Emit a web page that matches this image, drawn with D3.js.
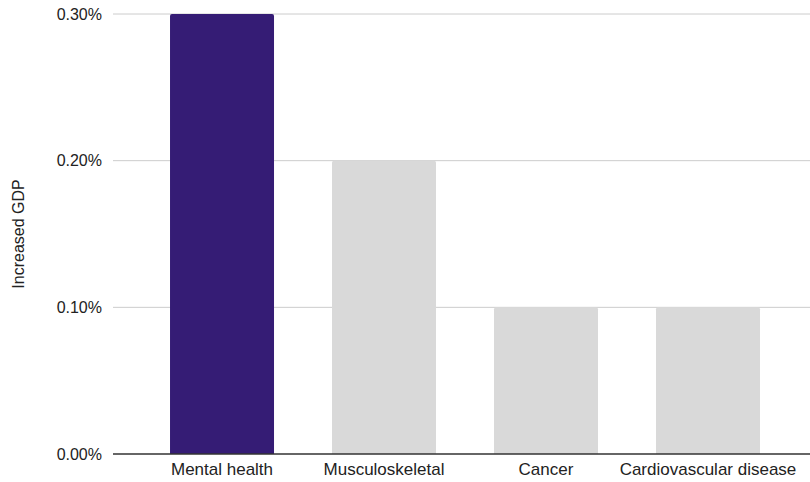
<!DOCTYPE html>
<html>
<head>
<meta charset="utf-8">
<script src="https://cdn.jsdelivr.net/npm/d3@7"></script>
<style>
  html, body { margin: 0; padding: 0; background: #fff; }
  svg { display: block; font-family: Arial, "Liberation Sans", sans-serif; }
</style>
</head>
<body>
<svg id="chart" width="810" height="482"></svg>
<script>
const categories = ["Mental health", "Musculoskeletal", "Cancer", "Cardiovascular disease"];
const values = [0.003, 0.002, 0.001, 0.001];
const barColors = ["#351c75", "#d9d9d9", "#d9d9d9", "#d9d9d9"];
const yTicks = [0, 0.001, 0.002, 0.003];
const yTitle = "Increased GDP";

(function () {
const mLeft = 113, mRight = 810, mTop = 14, mBottom = 454;

const svg = d3.select("#chart");

const x = d3.scaleBand()
  .domain(categories)
  .range([mLeft, 817])
  .paddingInner(0.358)
  .paddingOuter(0.352);

const y = d3.scaleLinear().domain([0, 0.003]).range([mBottom, mTop]);
const fmt = d3.format(".2%");

// gridlines
svg.append("g").selectAll("line")
  .data(yTicks.filter(d => d > 0))
  .join("line")
  .attr("x1", mLeft).attr("x2", mRight)
  .attr("y1", d => y(d)).attr("y2", d => y(d))
  .attr("stroke", "#cccccc").attr("stroke-width", 1);

// bars with rounded top corners
const r = 2;
svg.append("g").selectAll("path")
  .data(categories.map((c, i) => ({ c, v: values[i], col: barColors[i] })))
  .join("path")
  .attr("fill", d => d.col)
  .attr("d", d => {
    const x0 = x(d.c), x1 = x0 + x.bandwidth();
    const y0 = y(d.v), y1 = y(0);
    return `M${x0},${y1}V${y0 + r}Q${x0},${y0} ${x0 + r},${y0}H${x1 - r}Q${x1},${y0} ${x1},${y0 + r}V${y1}Z`;
  });

// baseline
svg.append("line")
  .attr("x1", mLeft).attr("x2", mRight)
  .attr("y1", y(0)).attr("y2", y(0))
  .attr("stroke", "#333333").attr("stroke-width", 1.3);

// y tick labels
svg.append("g").selectAll("text")
  .data(yTicks)
  .join("text")
  .attr("x", 102)
  .attr("y", d => y(d))
  .attr("dy", "0.35em")
  .attr("text-anchor", "end")
  .attr("font-size", 16)
  .attr("fill", "#222")
  .text(d => fmt(d));

// x category labels
svg.append("g").selectAll("text")
  .data(categories)
  .join("text")
  .attr("x", d => x(d) + x.bandwidth() / 2)
  .attr("y", 475)
  .attr("text-anchor", "middle")
  .attr("font-size", 17)
  .attr("fill", "#222")
  .text(d => d);

// y title
svg.append("text")
  .attr("transform", `translate(24,${(mTop + mBottom) / 2}) rotate(-90)`)
  .attr("text-anchor", "middle")
  .attr("font-size", 16)
  .attr("fill", "#222")
  .text(yTitle);
})();
</script>
</body>
</html>
